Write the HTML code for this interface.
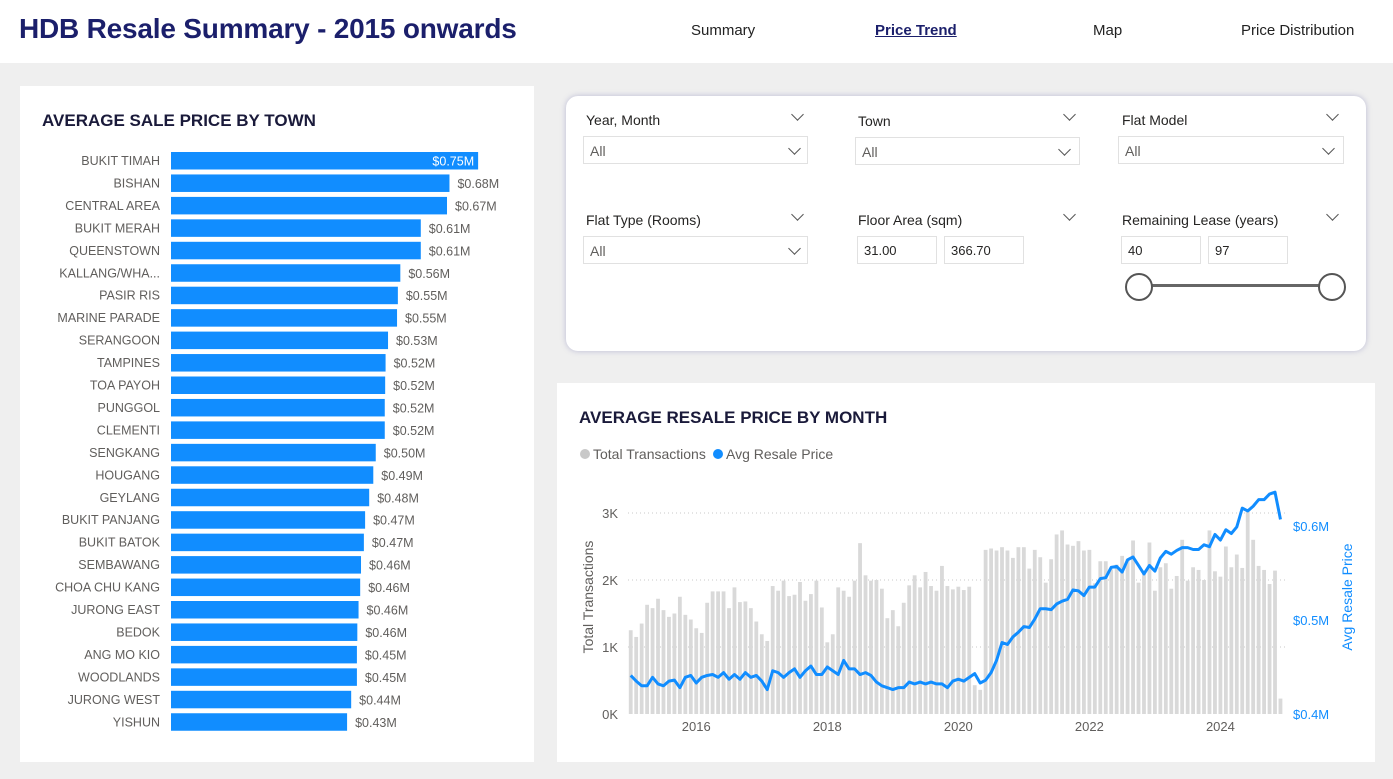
<!DOCTYPE html>
<html style="overflow:hidden;width:1393px;height:779px"><head><meta charset="utf-8">
<style>
body{margin:0;width:1393px;height:779px;background:#efefef;font-family:"Liberation Sans","DejaVu Sans",sans-serif;position:relative;overflow:hidden}
.hdr{position:absolute;left:0;top:0;width:1393px;height:63px;background:#fff}
.title{position:absolute;left:19px;top:13px;font-size:28px;font-weight:bold;color:#1b1f6b;letter-spacing:-0.2px}
.nav{position:absolute;top:22px;font-size:15px;color:#222}
.panel{position:absolute;background:#fff;overflow:hidden}
.flt{position:absolute;left:566px;top:96px;width:800px;height:255px;background:#fff;border-radius:12px;box-shadow:0 0 6px rgba(90,90,160,.35)}
.fl{position:absolute;font-size:14px;color:#252423}
.dd{position:absolute;height:28px;border:1px solid #e1e1e1;font-size:14px;color:#605e5c;box-sizing:border-box;padding:6px 6px}
.chev{position:absolute;width:8px;height:8px;border-right:1.5px solid #555;border-bottom:1.5px solid #555;transform:rotate(45deg)}
.inp{position:absolute;height:28px;width:80px;border:1px solid #e1e1e1;box-sizing:border-box;font-size:13px;padding:6px 6px;color:#252423}
</style></head><body>
<div class="hdr"></div>
<div class="title">HDB Resale Summary - 2015 onwards</div>
<div class="nav" style="left:691px">Summary</div>
<div class="nav" style="left:875px;font-weight:bold;text-decoration:underline;color:#1b1f6b">Price Trend</div>
<div class="nav" style="left:1093px">Map</div>
<div class="nav" style="left:1241px">Price Distribution</div>

<div class="panel" style="left:20px;top:86px;width:514px;height:676px">
<svg id="townsvg" width="514" height="676">
<text x="22" y="40" font-size="17" font-weight="bold" fill="#1a1a3a">AVERAGE SALE PRICE BY TOWN</text>
</svg></div>

<div class="flt">
 <div class="fl" style="left:20px;top:16px">Year, Month</div>
 <div class="chev" style="left:227px;top:14px"></div>
 <div class="dd" style="left:17px;top:40px;width:225px">All</div>
 <div class="chev" style="left:224px;top:48px"></div>
 <div class="fl" style="left:292px;top:17px">Town</div>
 <div class="chev" style="left:499px;top:14px"></div>
 <div class="dd" style="left:289px;top:41px;width:225px">All</div>
 <div class="chev" style="left:494px;top:49px"></div>
 <div class="fl" style="left:556px;top:16px">Flat Model</div>
 <div class="chev" style="left:762px;top:14px"></div>
 <div class="dd" style="left:552px;top:40px;width:226px">All</div>
 <div class="chev" style="left:758px;top:48px"></div>
 <div class="fl" style="left:20px;top:116px">Flat Type (Rooms)</div>
 <div class="chev" style="left:227px;top:114px"></div>
 <div class="dd" style="left:17px;top:140px;width:225px">All</div>
 <div class="chev" style="left:224px;top:148px"></div>
 <div class="fl" style="left:292px;top:116px">Floor Area (sqm)</div>
 <div class="chev" style="left:499px;top:114px"></div>
 <div class="inp" style="left:291px;top:140px">31.00</div>
 <div class="inp" style="left:378px;top:140px">366.70</div>
 <div class="fl" style="left:556px;top:116px">Remaining Lease (years)</div>
 <div class="chev" style="left:762px;top:114px"></div>
 <div class="inp" style="left:555px;top:140px">40</div>
 <div class="inp" style="left:642px;top:140px">97</div>
 <div style="position:absolute;left:573px;top:188px;width:193px;height:3px;background:#666"></div>
 <div style="position:absolute;left:559px;top:177px;width:24px;height:24px;border:2px solid #555;border-radius:50%;background:#fff"></div>
 <div style="position:absolute;left:752px;top:177px;width:24px;height:24px;border:2px solid #555;border-radius:50%;background:#fff"></div>
</div>

<div class="panel" style="left:557px;top:383px;width:818px;height:379px">
<svg id="msvg" width="818" height="379">
<text x="22" y="40" font-size="17" font-weight="bold" fill="#1a1a3a">AVERAGE RESALE PRICE BY MONTH</text>
<circle cx="28" cy="71" r="5" fill="#c8c8c8"/>
<text x="36" y="76" font-size="14" fill="#605e5c">Total Transactions</text>
<circle cx="161" cy="71" r="5" fill="#118dff"/>
<text x="169" y="76" font-size="14" fill="#605e5c">Avg Resale Price</text>
<text transform="translate(36,214) rotate(-90)" text-anchor="middle" font-size="14" fill="#605e5c">Total Transactions</text>
<text transform="translate(795,214) rotate(-90)" text-anchor="middle" font-size="14" fill="#118dff">Avg Resale Price</text>
</svg></div>

<script>
const towns=["BUKIT TIMAH","BISHAN","CENTRAL AREA","BUKIT MERAH","QUEENSTOWN","KALLANG/WHA...","PASIR RIS","MARINE PARADE","SERANGOON","TAMPINES","TOA PAYOH","PUNGGOL","CLEMENTI","SENGKANG","HOUGANG","GEYLANG","BUKIT PANJANG","BUKIT BATOK","SEMBAWANG","CHOA CHU KANG","JURONG EAST","BEDOK","ANG MO KIO","WOODLANDS","JURONG WEST","YISHUN"];
const townPrices=[0.75,0.68,0.674,0.61,0.61,0.56,0.554,0.552,0.53,0.524,0.523,0.522,0.522,0.50,0.494,0.484,0.474,0.471,0.464,0.462,0.458,0.455,0.454,0.454,0.44,0.43];

const months=[];for(let y=2015;y<=2024;y++)for(let m=1;m<=12;m++)months.push(y+"-"+m);
const transactions=[
1.25,1.15,1.35,1.63,1.58,1.72,1.55,1.45,1.5,1.75,1.48,1.41,
1.28,1.21,1.66,1.83,1.83,1.83,1.58,1.89,1.67,1.68,1.58,1.38,
1.19,1.09,1.91,1.84,1.99,1.76,1.78,1.97,1.69,1.79,1.99,1.59,
1.07,1.19,1.89,1.84,1.75,1.99,2.55,2.07,1.99,2.0,1.87,1.43,
1.55,1.31,1.66,1.92,2.07,1.89,2.12,1.91,1.84,2.21,1.91,1.86,
1.9,1.85,1.9,0.43,0.36,2.45,2.47,2.44,2.49,2.44,2.33,2.49,
2.49,2.17,2.45,2.34,1.96,2.31,2.68,2.74,2.53,2.51,2.58,2.44,
2.45,1.95,2.28,2.28,2.16,2.23,2.36,2.31,2.59,1.96,2.14,2.56,
1.84,2.19,2.25,1.87,2.06,2.6,1.99,2.19,2.15,2.0,2.74,2.13,
2.05,2.5,2.19,2.38,2.18,3.03,2.6,2.21,2.15,1.94,2.14,0.23];
const avgPrice=[
441,435,430,430,439,432,430,435,436,428,439,441,
433,439,441,442,439,444,437,442,437,444,439,441,
435,426,446,444,439,444,448,439,446,451,442,442,
450,446,442,457,448,448,442,444,441,434,430,428,
426,428,428,434,432,434,432,434,432,432,428,435,
437,435,439,443,433,436,444,457,476,474,482,487,
493,492,501,512,512,511,517,520,522,532,531,526,
535,535,544,545,556,557,551,564,567,558,549,558,
552,566,573,570,574,577,577,575,575,580,578,591,
585,596,592,599,619,616,621,628,628,634,636,607];
const leftTicks=[0,1,2,3];
const rightTicks=[0.4,0.5,0.6];
const yearTicks=[2016,2018,2020,2022,2024];

const NS="http://www.w3.org/2000/svg";
function mk(p,t,a){const e=document.createElementNS(NS,t);for(const k in a)e.setAttribute(k,a[k]);p.appendChild(e);return e;}

const ts=document.getElementById('townsvg');
const tx0=151, tk=409.5, rowH=22.45, ty0=66;
const xT=v=>tx0+v*tk;
towns.forEach((t,i)=>{
  const y=ty0+i*rowH;
  const lab=mk(ts,'text',{x:140,y:y+13,'text-anchor':'end','font-size':12.5,fill:'#605e5c'});lab.textContent=t;
  
  
  const r=mk(ts,'rect',{x:tx0,y:y,width:xT(townPrices[i])-tx0,height:17.5,fill:'#118dff'});
  
  
  const inside=i===0;
  const vl=mk(ts,'text',{x:inside?xT(townPrices[i])-4:xT(townPrices[i])+8,y:y+13.5,'text-anchor':inside?'end':'start','font-size':12.5,fill:inside?'#fff':'#605e5c'});
  vl.textContent='$'+townPrices[i].toFixed(2)+'M';
  
  
});

const ms=document.getElementById('msvg');
const px0=71, bw=5.46, yb=331;
const yL=v=>yb-v*67;
const yR=v=>yb-(v-400)*0.94;
const xM=i=>px0+(i+0.5)*bw;
leftTicks.forEach(t=>{
  if(t>0){const g=mk(ms,'line',{x1:px0,x2:728,y1:yL(t),y2:yL(t),stroke:'#c8c8c8','stroke-dasharray':'1,3'});
  
  }
  const l=mk(ms,'text',{x:61,y:yL(t)+5,'text-anchor':'end','font-size':13,fill:'#605e5c'});l.textContent=t+'K';
  
  
});
rightTicks.forEach(t=>{
  const l=mk(ms,'text',{x:736,y:yR(t*1000)+5,'font-size':13,fill:'#118dff'});l.textContent='$'+t.toFixed(1)+'M';
  
  
});
yearTicks.forEach(y=>{
  const i=(y-2015)*12;
  const l=mk(ms,'text',{x:xM(i),y:348,'text-anchor':'middle','font-size':13,fill:'#605e5c'});l.textContent=y;
  
  
});
transactions.forEach((v,i)=>{
  const r=mk(ms,'rect',{x:xM(i)-1.9,y:yL(v),width:3.8,height:yb-yL(v),fill:'#d9d9d9'});
  
  
});
const pl=mk(ms,'polyline',{points:avgPrice.map((v,i)=>xM(i)+','+yR(v)).join(' '),fill:'none',stroke:'#118dff','stroke-width':3,'stroke-linejoin':'round'});


</script>
</body></html>
